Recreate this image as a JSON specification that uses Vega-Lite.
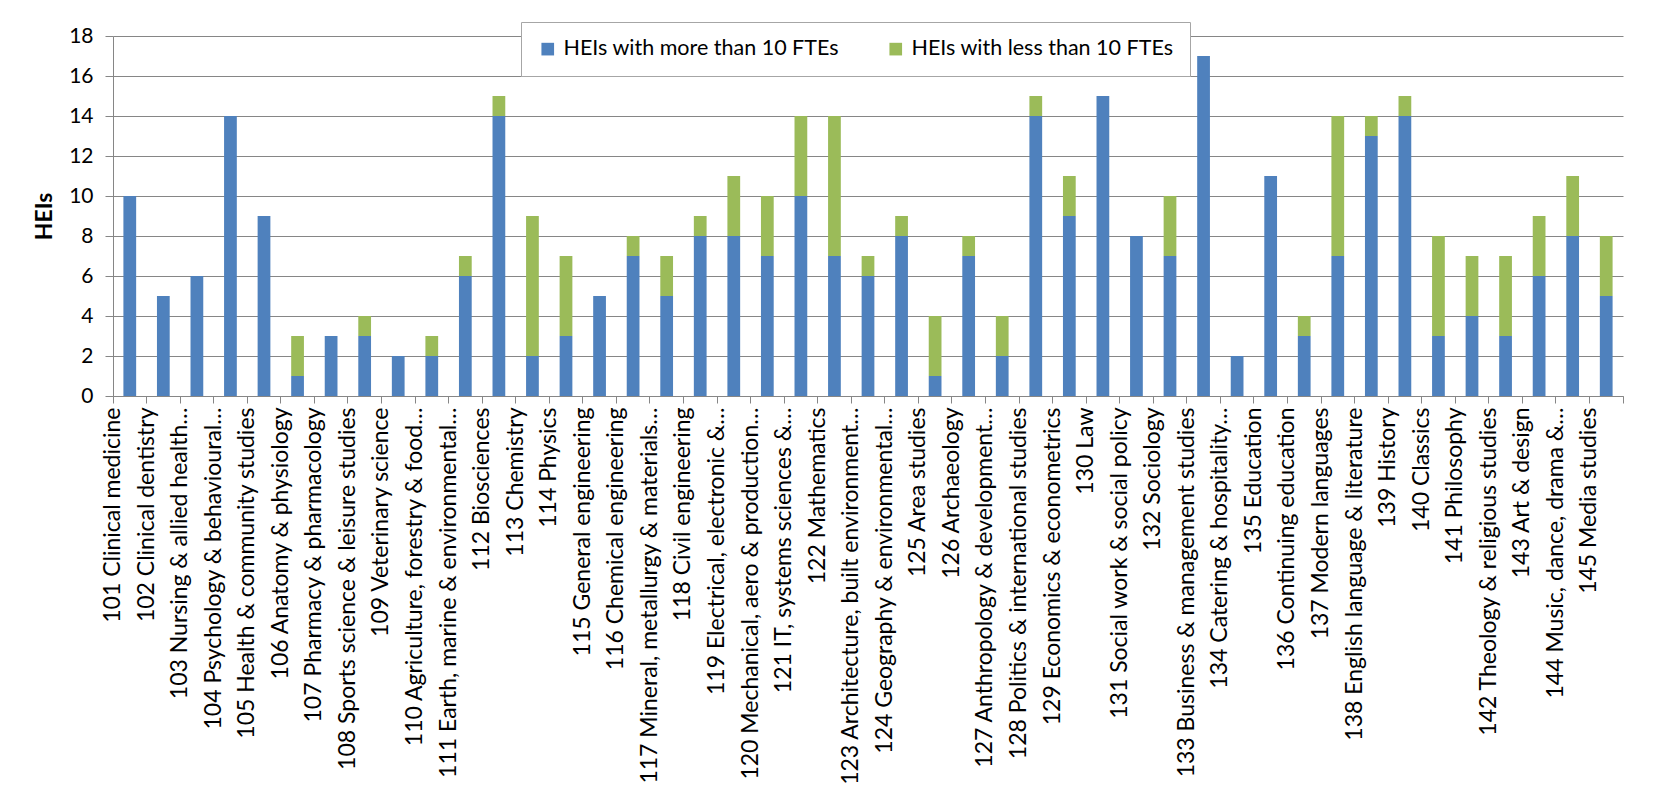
{
  "$schema": "https://vega.github.io/schema/vega-lite/v6.json",
  "width": 1510,
  "height": 360,
  "autosize": {"type": "none"},
  "padding": {"left": 113, "top": 36, "right": 38, "bottom": 393},
  "background": "white",
  "config": {
    "font": "Lato",
    "view": {"stroke": null},
    "axis": {"domainColor": "#868686", "tickColor": "#868686", "gridColor": "#868686", "labelColor": "#000000", "titleColor": "#000000"}
  },
  "data": {
    "values": [
      {"subject": "101 Clinical medicine", "HEIs with more than 10 FTEs": 10, "HEIs with less than 10 FTEs": 0},
      {"subject": "102 Clinical dentistry", "HEIs with more than 10 FTEs": 5, "HEIs with less than 10 FTEs": 0},
      {"subject": "103 Nursing & allied health…", "HEIs with more than 10 FTEs": 6, "HEIs with less than 10 FTEs": 0},
      {"subject": "104 Psychology & behavioural…", "HEIs with more than 10 FTEs": 14, "HEIs with less than 10 FTEs": 0},
      {"subject": "105 Health & community studies", "HEIs with more than 10 FTEs": 9, "HEIs with less than 10 FTEs": 0},
      {"subject": "106 Anatomy & physiology", "HEIs with more than 10 FTEs": 1, "HEIs with less than 10 FTEs": 2},
      {"subject": "107 Pharmacy & pharmacology", "HEIs with more than 10 FTEs": 3, "HEIs with less than 10 FTEs": 0},
      {"subject": "108 Sports science & leisure studies", "HEIs with more than 10 FTEs": 3, "HEIs with less than 10 FTEs": 1},
      {"subject": "109 Veterinary science", "HEIs with more than 10 FTEs": 2, "HEIs with less than 10 FTEs": 0},
      {"subject": "110 Agriculture, forestry & food…", "HEIs with more than 10 FTEs": 2, "HEIs with less than 10 FTEs": 1},
      {"subject": "111 Earth, marine & environmental…", "HEIs with more than 10 FTEs": 6, "HEIs with less than 10 FTEs": 1},
      {"subject": "112 Biosciences", "HEIs with more than 10 FTEs": 14, "HEIs with less than 10 FTEs": 1},
      {"subject": "113 Chemistry", "HEIs with more than 10 FTEs": 2, "HEIs with less than 10 FTEs": 7},
      {"subject": "114 Physics", "HEIs with more than 10 FTEs": 3, "HEIs with less than 10 FTEs": 4},
      {"subject": "115 General engineering", "HEIs with more than 10 FTEs": 5, "HEIs with less than 10 FTEs": 0},
      {"subject": "116 Chemical engineering", "HEIs with more than 10 FTEs": 7, "HEIs with less than 10 FTEs": 1},
      {"subject": "117 Mineral, metallurgy & materials…", "HEIs with more than 10 FTEs": 5, "HEIs with less than 10 FTEs": 2},
      {"subject": "118 Civil engineering", "HEIs with more than 10 FTEs": 8, "HEIs with less than 10 FTEs": 1},
      {"subject": "119 Electrical, electronic &…", "HEIs with more than 10 FTEs": 8, "HEIs with less than 10 FTEs": 3},
      {"subject": "120 Mechanical, aero & production…", "HEIs with more than 10 FTEs": 7, "HEIs with less than 10 FTEs": 3},
      {"subject": "121 IT, systems sciences &…", "HEIs with more than 10 FTEs": 10, "HEIs with less than 10 FTEs": 4},
      {"subject": "122 Mathematics", "HEIs with more than 10 FTEs": 7, "HEIs with less than 10 FTEs": 7},
      {"subject": "123 Architecture, built environment…", "HEIs with more than 10 FTEs": 6, "HEIs with less than 10 FTEs": 1},
      {"subject": "124 Geography & environmental…", "HEIs with more than 10 FTEs": 8, "HEIs with less than 10 FTEs": 1},
      {"subject": "125 Area studies", "HEIs with more than 10 FTEs": 1, "HEIs with less than 10 FTEs": 3},
      {"subject": "126 Archaeology", "HEIs with more than 10 FTEs": 7, "HEIs with less than 10 FTEs": 1},
      {"subject": "127 Anthropology & development…", "HEIs with more than 10 FTEs": 2, "HEIs with less than 10 FTEs": 2},
      {"subject": "128 Politics & international studies", "HEIs with more than 10 FTEs": 14, "HEIs with less than 10 FTEs": 1},
      {"subject": "129 Economics & econometrics", "HEIs with more than 10 FTEs": 9, "HEIs with less than 10 FTEs": 2},
      {"subject": "130 Law", "HEIs with more than 10 FTEs": 15, "HEIs with less than 10 FTEs": 0},
      {"subject": "131 Social work & social policy", "HEIs with more than 10 FTEs": 8, "HEIs with less than 10 FTEs": 0},
      {"subject": "132 Sociology", "HEIs with more than 10 FTEs": 7, "HEIs with less than 10 FTEs": 3},
      {"subject": "133 Business & management studies", "HEIs with more than 10 FTEs": 17, "HEIs with less than 10 FTEs": 0},
      {"subject": "134 Catering & hospitality…", "HEIs with more than 10 FTEs": 2, "HEIs with less than 10 FTEs": 0},
      {"subject": "135 Education", "HEIs with more than 10 FTEs": 11, "HEIs with less than 10 FTEs": 0},
      {"subject": "136 Continuing education", "HEIs with more than 10 FTEs": 3, "HEIs with less than 10 FTEs": 1},
      {"subject": "137 Modern languages", "HEIs with more than 10 FTEs": 7, "HEIs with less than 10 FTEs": 7},
      {"subject": "138 English language & literature", "HEIs with more than 10 FTEs": 13, "HEIs with less than 10 FTEs": 1},
      {"subject": "139 History", "HEIs with more than 10 FTEs": 14, "HEIs with less than 10 FTEs": 1},
      {"subject": "140 Classics", "HEIs with more than 10 FTEs": 3, "HEIs with less than 10 FTEs": 5},
      {"subject": "141 Philosophy", "HEIs with more than 10 FTEs": 4, "HEIs with less than 10 FTEs": 3},
      {"subject": "142 Theology & religious studies", "HEIs with more than 10 FTEs": 3, "HEIs with less than 10 FTEs": 4},
      {"subject": "143 Art & design", "HEIs with more than 10 FTEs": 6, "HEIs with less than 10 FTEs": 3},
      {"subject": "144 Music, dance, drama &…", "HEIs with more than 10 FTEs": 8, "HEIs with less than 10 FTEs": 3},
      {"subject": "145 Media studies", "HEIs with more than 10 FTEs": 5, "HEIs with less than 10 FTEs": 3}
    ]
  },
  "transform": [
    {"fold": ["HEIs with more than 10 FTEs", "HEIs with less than 10 FTEs"], "as": ["group", "count"]}
  ],
  "mark": {"type": "bar", "width": {"band": 0.38}},
  "encoding": {
    "x": {
      "field": "subject",
      "type": "nominal",
      "sort": null,
      "scale": {"paddingInner": 0, "paddingOuter": 0},
      "axis": {
        "title": null,
        "bandPosition": 1,
        "tickExtra": true,
        "labelOffset": -16.78,
        "labelAngle": -90,
        "labelFontSize": 23,
        "labelPadding": 4,
        "labelLimit": 400,
        "tickSize": 7,
        "grid": false
      }
    },
    "y": {
      "field": "count",
      "type": "quantitative",
      "stack": "zero",
      "scale": {"domain": [0, 18], "nice": false},
      "axis": {
        "title": "HEIs",
        "titleFontSize": 23,
        "titleFontWeight": "bold",
        "titlePadding": 12,
        "values": [0, 2, 4, 6, 8, 10, 12, 14, 16, 18],
        "labelFontSize": 21,
        "labelPadding": 12,
        "tickSize": 8,
        "grid": true
      }
    },
    "color": {
      "field": "group",
      "type": "nominal",
      "sort": ["HEIs with more than 10 FTEs", "HEIs with less than 10 FTEs"],
      "scale": {"domain": ["HEIs with more than 10 FTEs", "HEIs with less than 10 FTEs"], "range": ["#4F81BD", "#9BBB59"]},
      "legend": {
        "title": null,
        "orient": "none",
        "direction": "horizontal",
        "legendX": 408,
        "legendY": -14,
        "padding": 16,
        "strokeColor": "#A6A6A6",
        "fillColor": "white",
        "symbolType": "square",
        "symbolSize": 160,
        "symbolStrokeWidth": 0,
        "labelFontSize": 21.5,
        "labelOffset": 5,
        "labelLimit": 400,
        "columnPadding": 46
      }
    },
    "order": {"field": "group", "sort": "descending"}
  }
}
